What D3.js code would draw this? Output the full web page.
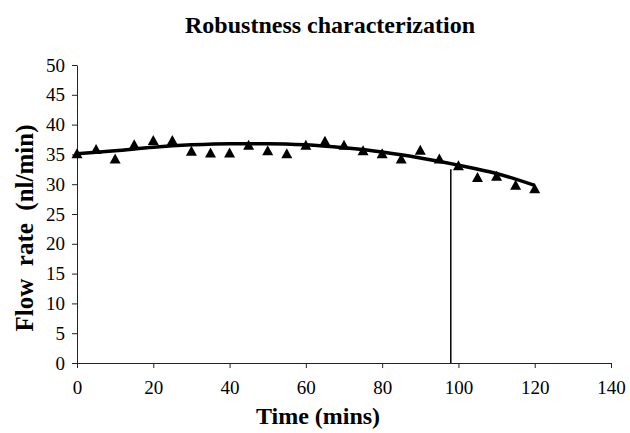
<!DOCTYPE html>
<html>
<head>
<meta charset="utf-8">
<script src="https://cdn.jsdelivr.net/npm/d3@7"></script>
<style>
  body { margin: 0; background: #fff; }
  text { font-family: "Liberation Serif", "Times New Roman", serif; }
</style>
</head>
<body>
<div id="chart"></div>
<script>
// measured flow rate, one reading every 5 min
const times = [0, 5, 10, 15, 20, 25, 30, 35, 40, 45, 50, 55, 60, 65, 70, 75, 80, 85, 90, 95, 100, 105, 110, 115, 120]
const flow = [35.2, 35.9, 34.3, 36.7, 37.4, 37.4, 35.6, 35.3, 35.3, 36.6, 35.7, 35.2, 36.6, 37.3, 36.6, 35.7, 35.2, 34.3, 35.8, 34.3, 33.2, 31.2, 31.4, 29.9, 29.3]

// trend line
const trendTimes = [0, 10, 20, 30, 40, 50, 60, 70, 80, 90, 100, 110, 120]
const trendFlow = [35.1, 35.6, 36.2, 36.6, 36.8, 36.8, 36.6, 36.1, 35.4, 34.4, 33.2, 31.8, 29.8]

// vertical marker line
const markerTime = [98]
const markerTop = [32.5]

const xTicks = [0, 20, 40, 60, 80, 100, 120, 140]
const yTicks = [0, 5, 10, 15, 20, 25, 30, 35, 40, 45, 50]

const width = 630, height = 433
const margin = { top: 65, right: 19, bottom: 70, left: 77 }

const svg = d3.select("#chart").append("svg")
    .attr("width", width)
    .attr("height", height)

const x = d3.scaleLinear().domain([0, 140]).range([margin.left, width - margin.right])
const y = d3.scaleLinear().domain([0, 50]).range([height - margin.bottom, margin.top])

// axes
svg.append("g")
    .attr("transform", "translate(0," + y(0) + ")")
    .call(d3.axisBottom(x).tickValues(xTicks).tickSize(5).tickSizeOuter(0).tickPadding(13))
svg.append("g")
    .attr("transform", "translate(" + x(0) + ",0)")
    .call(d3.axisLeft(y).tickValues(yTicks).tickSize(5).tickSizeOuter(0).tickPadding(7))

svg.selectAll(".domain, .tick line").attr("stroke", "#222")
svg.selectAll(".tick text")
    .attr("fill", "#000")
    .style("font-size", "19px")
    .style("font-family", "'Liberation Serif', serif")

// marker line
svg.selectAll(".marker")
    .data(markerTime)
    .enter().append("line")
    .attr("class", "marker")
    .attr("x1", d => x(d))
    .attr("x2", d => x(d))
    .attr("y1", y(0))
    .attr("y2", (d, i) => y(markerTop[i]))
    .attr("stroke", "#000")
    .attr("stroke-width", 1.5)

// triangles
const tri = "M0,-5L5.5,5L-5.5,5Z"
svg.selectAll(".pt")
    .data(times)
    .enter().append("path")
    .attr("class", "pt")
    .attr("d", tri)
    .attr("transform", (d, i) => "translate(" + x(d) + "," + y(flow[i]) + ")")
    .attr("fill", "#000")

// trend line
const line = d3.line()
    .x(d => x(d))
    .y((d, i) => y(trendFlow[i]))
    .curve(d3.curveMonotoneX)

svg.append("path")
    .datum(trendTimes)
    .attr("d", line)
    .attr("fill", "none")
    .attr("stroke", "#000")
    .attr("stroke-width", 3.5)

// titles
svg.append("text")
    .attr("x", 330)
    .attr("y", 33)
    .attr("text-anchor", "middle")
    .style("font-size", "24px")
    .style("font-weight", "bold")
    .text("Robustness characterization")

svg.append("text")
    .attr("x", 318)
    .attr("y", 424)
    .attr("text-anchor", "middle")
    .style("font-size", "24px")
    .style("font-weight", "bold")
    .text("Time (mins)")

svg.append("text")
    .attr("transform", "translate(33,228) rotate(-90)")
    .attr("text-anchor", "middle")
    .style("font-size", "25px")
    .style("font-weight", "bold")
    .style("white-space", "pre")
    .text("Flow  rate  (nl/min)")
</script>
</body>
</html>
